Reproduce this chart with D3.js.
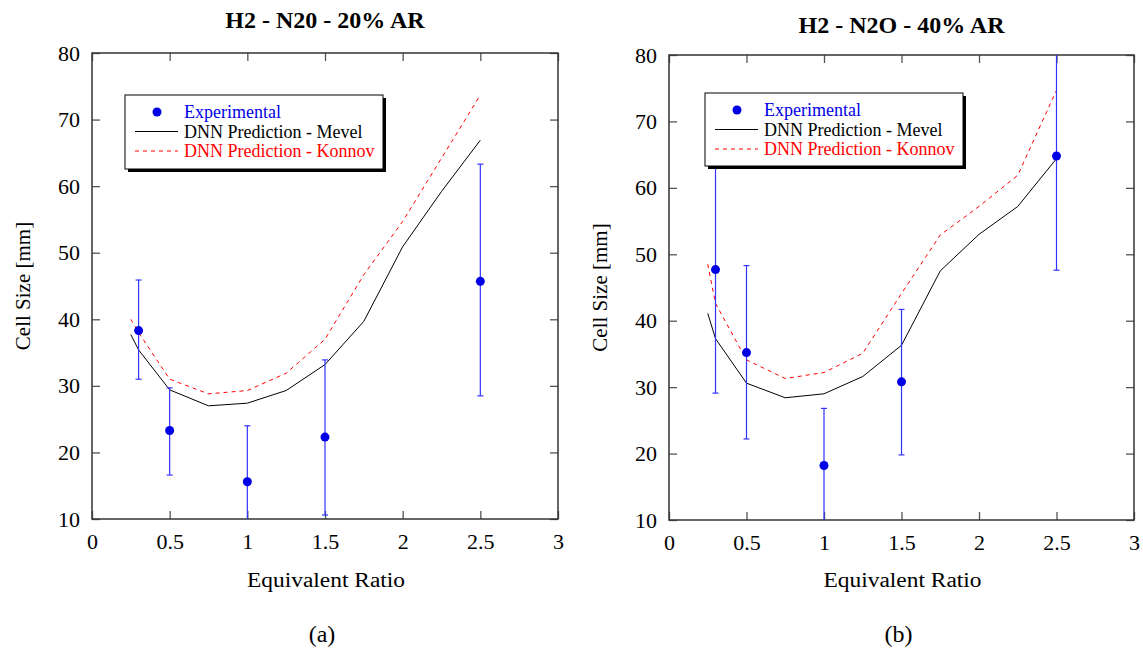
<!DOCTYPE html>
<html>
<head>
<meta charset="utf-8">
<script src="https://cdn.jsdelivr.net/npm/d3@7"></script>
<style>
  body { margin: 0; background: #fff; }
  svg text { font-family: "Liberation Serif", "Times New Roman", serif !important; }
</style>
</head>
<body>
<script>
// Data
const predX = [0.25, 0.3, 0.5, 0.75, 1.0, 1.25, 1.5, 1.75, 2.0, 2.25, 2.5];
const mevelA = [37.7, 35.4, 29.4, 27.0, 27.4, 29.3, 33.2, 39.7, 50.9, 59.2, 66.9];
const konnovA = [40.0, 38.0, 31.0, 28.8, 29.3, 31.9, 37.0, 46.7, 54.7, 64.2, 73.7];
const mevelB = [41.1, 37.3, 30.6, 28.4, 29.0, 31.6, 36.3, 47.5, 53.0, 57.2, 64.4];
const konnovB = [48.5, 42.6, 34.1, 31.3, 32.2, 35.1, 44.1, 52.9, 57.2, 61.9, 74.7];

const expX = [0.3, 0.5, 1.0, 1.5, 2.5];
const expA = [38.3, 23.3, 15.6, 22.3, 45.7];
const expAHi = [45.9, 29.7, 24.0, 33.9, 63.3];
const expALo = [31.0, 16.6, 7.2, 10.6, 28.5];
const expB = [47.7, 35.2, 18.2, 30.8, 64.8];
const expBHi = [66.3, 48.3, 26.8, 41.7, 82.0];
const expBLo = [29.1, 22.2, 9.6, 19.8, 47.6];

const xTicks = [0, 0.5, 1, 1.5, 2, 2.5, 3];
const yTicks = [10, 20, 30, 40, 50, 60, 70, 80];
const legendLabels = ["Experimental", "DNN Prediction - Mevel", "DNN Prediction - Konnov"];

const width = 1143, height = 648;
const blue = "#0000e6", red = "#ff0000";
const serif = "'Liberation Serif', 'Times New Roman', serif";

const svg = d3.select("body").append("svg")
  .attr("width", width)
  .attr("height", height)
  .attr("font-family", serif);

const panels = [
  { id: "a", title: "H2 - N20 - 20% AR", caption: "(a)", box: [92, 53, 558, 519], titleY: 28,
    mevel: mevelA, konnov: konnovA, exp: expA, hi: expAHi, lo: expALo, legend: [125, 95, 258, 74] },
  { id: "b", title: "H2 - N2O - 40% AR", caption: "(b)", box: [669, 55, 1134, 520], titleY: 33,
    mevel: mevelB, konnov: konnovB, exp: expB, hi: expBHi, lo: expBLo, legend: [705, 93, 258, 73] }
];

panels.forEach(p => {
  const [x0, y0, x1, y1] = p.box;
  const x = d3.scaleLinear().domain([0, 3]).range([x0, x1]);
  const y = d3.scaleLinear().domain([10, 80]).range([y1, y0]);
  const g = svg.append("g");

  // clip for data
  g.append("clipPath").attr("id", "clip-" + p.id)
    .append("rect").attr("x", x0).attr("y", y0).attr("width", x1 - x0).attr("height", y1 - y0);

  // inward ticks on all sides
  g.append("g").attr("transform", `translate(0,${y1})`)
    .call(d3.axisBottom(x).tickValues(xTicks).tickSize(-8).tickPadding(14).tickFormat(d3.format("~g")))
    .call(a => a.select(".domain").remove());
  g.append("g").attr("transform", `translate(0,${y0})`)
    .call(d3.axisTop(x).tickValues(xTicks).tickSize(-8).tickFormat(""))
    .call(a => a.select(".domain").remove());
  g.append("g").attr("transform", `translate(${x0},0)`)
    .call(d3.axisLeft(y).tickValues(yTicks).tickSize(-8).tickPadding(12))
    .call(a => a.select(".domain").remove());
  g.append("g").attr("transform", `translate(${x1},0)`)
    .call(d3.axisRight(y).tickValues(yTicks).tickSize(-8).tickFormat(""))
    .call(a => a.select(".domain").remove());
  g.selectAll("g").attr("font-family", serif);
  g.selectAll(".tick line").attr("stroke", "#555").attr("stroke-width", 1.3);
  g.selectAll(".tick text").attr("font-size", 22).attr("fill", "#000");

  // frame
  g.append("rect").attr("x", x0).attr("y", y0).attr("width", x1 - x0).attr("height", y1 - y0)
    .attr("fill", "none").attr("stroke", "#333").attr("stroke-width", 1.5);

  const data = g.append("g").attr("clip-path", `url(#clip-${p.id})`);
  const line = d3.line().x((d, i) => x(predX[i])).y(d => y(d));

  data.append("path").datum(p.konnov).attr("d", line)
    .attr("fill", "none").attr("stroke", red).attr("stroke-width", 1).attr("stroke-dasharray", "4,4");
  data.append("path").datum(p.mevel).attr("d", line)
    .attr("fill", "none").attr("stroke", "#000").attr("stroke-width", 1);

  // error bars
  const eb = data.selectAll(".err").data(expX).join("g").attr("stroke", "#3333ff").attr("stroke-width", 1.2);
  eb.append("line").attr("x1", d => x(d)).attr("x2", d => x(d))
    .attr("y1", (d, i) => y(p.hi[i])).attr("y2", (d, i) => y(p.lo[i]));
  eb.append("line").attr("x1", d => x(d) - 3).attr("x2", d => x(d) + 3)
    .attr("y1", (d, i) => y(p.hi[i])).attr("y2", (d, i) => y(p.hi[i]));
  eb.append("line").attr("x1", d => x(d) - 3).attr("x2", d => x(d) + 3)
    .attr("y1", (d, i) => y(p.lo[i])).attr("y2", (d, i) => y(p.lo[i]));
  data.selectAll(".pt").data(expX).join("circle")
    .attr("cx", d => x(d)).attr("cy", (d, i) => y(p.exp[i])).attr("r", 4.5).attr("fill", blue);

  // legend
  const [lx, ly, lw, lh] = p.legend;
  const lg = g.append("g");
  lg.append("rect").attr("x", lx + 3).attr("y", ly + 3).attr("width", lw).attr("height", lh).attr("fill", "#000");
  lg.append("rect").attr("x", lx).attr("y", ly).attr("width", lw).attr("height", lh)
    .attr("fill", "#fff").attr("stroke", "#000").attr("stroke-width", 1);
  const rowY = i => ly + 17 + i * 19.5;
  lg.append("circle").attr("cx", lx + 32).attr("cy", rowY(0)).attr("r", 4.5).attr("fill", blue);
  lg.append("line").attr("x1", lx + 10).attr("x2", lx + 53).attr("y1", rowY(1)).attr("y2", rowY(1))
    .attr("stroke", "#000").attr("stroke-width", 1);
  lg.append("line").attr("x1", lx + 10).attr("x2", lx + 53).attr("y1", rowY(2)).attr("y2", rowY(2))
    .attr("stroke", red).attr("stroke-width", 1).attr("stroke-dasharray", "4,4");
  lg.selectAll(".lt").data(legendLabels).join("text")
    .attr("x", lx + 59).attr("y", (d, i) => rowY(i) + 6)
    .attr("font-size", 18)
    .attr("fill", (d, i) => [blue, "#000", red][i])
    .text(d => d);

  // titles and labels
  const cx = (x0 + x1) / 2;
  g.append("text").attr("x", cx).attr("y", p.titleY).attr("text-anchor", "middle")
    .attr("font-size", 24).attr("font-weight", "bold").text(p.title);
  g.append("text").attr("x", cx + 1).attr("y", 587).attr("text-anchor", "middle")
    .attr("font-size", 20).attr("textLength", 158).attr("lengthAdjust", "spacingAndGlyphs")
    .text("Equivalent Ratio");
  g.append("text").attr("transform", `translate(${x0 - 62},${(y0 + y1) / 2}) rotate(-90)`)
    .attr("text-anchor", "middle").attr("font-size", 21).text("Cell Size [mm]");
  g.append("text").attr("x", cx - 3).attr("y", 642).attr("text-anchor", "middle")
    .attr("font-size", 24).text(p.caption);
});
</script>
</body>
</html>
